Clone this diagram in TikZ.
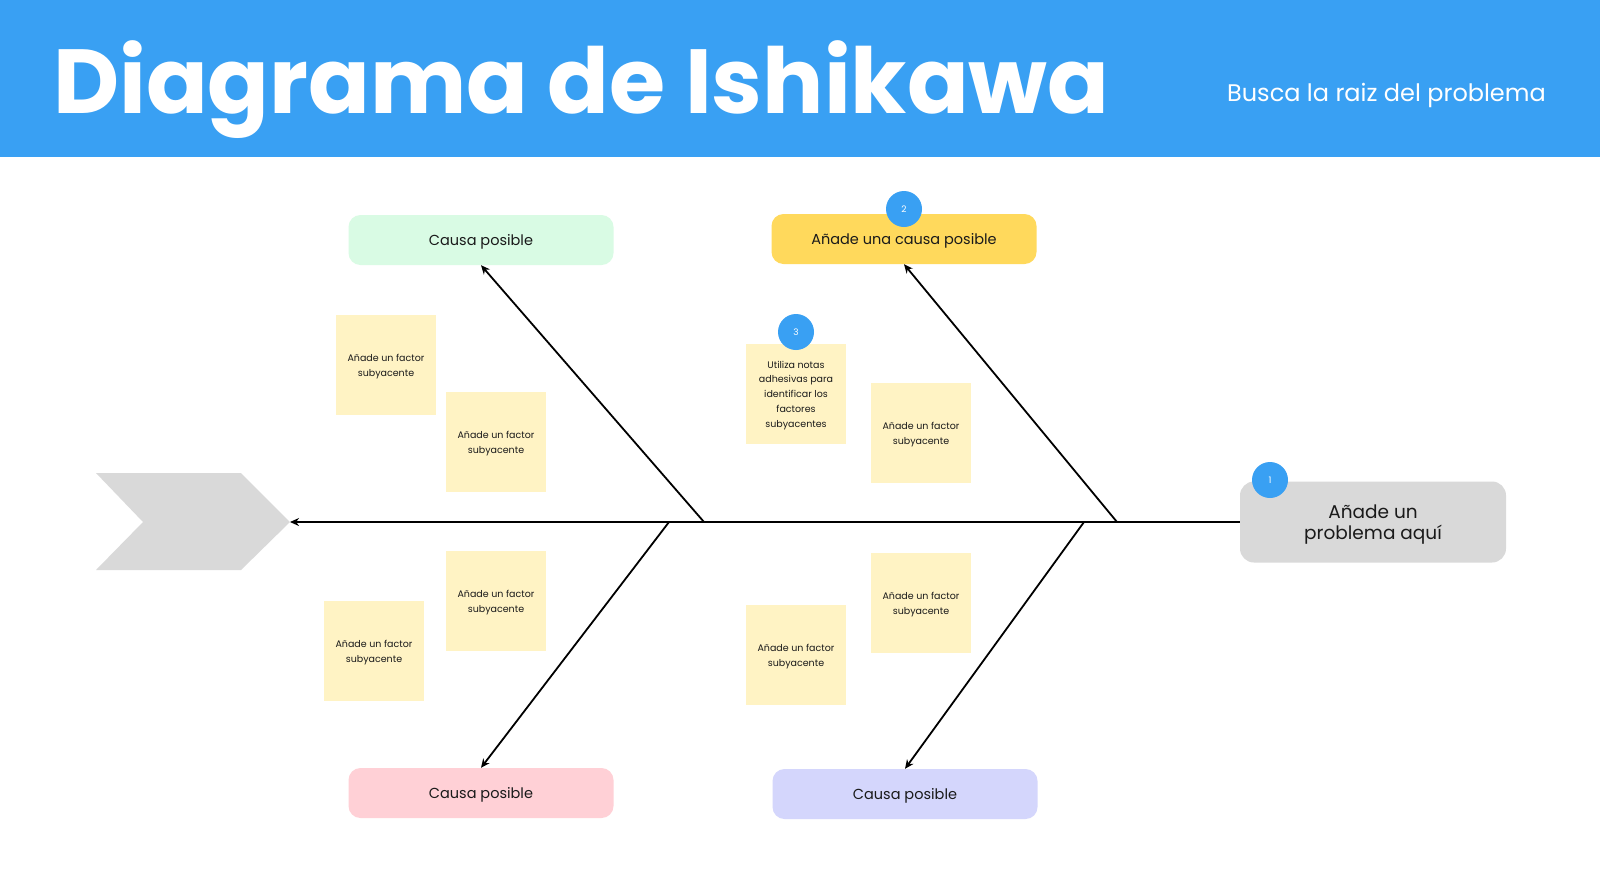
\documentclass[tikz,border=0pt]{standalone}
\usepackage{fontspec}
\setmainfont{Poppins}
\usetikzlibrary{arrows.meta}
\definecolor{headblue}{HTML}{39A0F3}
\definecolor{greenc}{HTML}{D9FBE4}
\definecolor{yellowc}{HTML}{FFD95C}
\definecolor{pinkc}{HTML}{FFD0D6}
\definecolor{lilac}{HTML}{D4D6FC}
\definecolor{greyc}{HTML}{D9D9D9}
\definecolor{notec}{HTML}{FFF3C4}
\definecolor{ink}{HTML}{1A1A1A}
\begin{document}
\begin{tikzpicture}[x=1pt,y=-1pt,
	cause/.style={rounded corners=12pt,minimum width=265pt,minimum height=50pt,
		inner sep=0pt,text depth=0pt,text=ink,font=\fontsize{14.5}{17}\selectfont},
	note/.style={fill=notec,minimum width=100pt,minimum height=100pt,inner sep=0pt,
		text depth=0pt,align=center,text=ink,font=\fontsize{9.5}{14.8}\selectfont},
	badge/.style={circle,fill=headblue,minimum size=36pt,inner sep=0pt,
		text=white,font=\fontsize{9}{11}\selectfont},
	bone/.style={line width=1.8pt,-{Stealth[length=9pt,width=8pt]}}]
\useasboundingbox (0,0) rectangle (1600,884);
\fill[white] (0,0) rectangle (1600,884);
% header
\fill[headblue] (0,0) rectangle (1600,157);
\node[anchor=base west,inner sep=0pt,text=white,font=\fontsize{91}{96}\selectfont\bfseries] (title) at (53,113) {Diagrama de Ishikawa};
\node[anchor=base east,inner sep=0pt,text=white,font=\fontsize{24}{28}\selectfont] (sub) at (1546,101) {Busca la raiz del problema};
% head of the fish
\fill[greyc] (96,473) -- (241,473) -- (290,522) -- (241,570) -- (96,570) -- (143,522) -- cycle;
\coordinate (tip) at (290,522);
\node[fill=greyc,rounded corners=14pt,minimum width=266pt,minimum height=81pt,inner sep=0pt,
	text depth=0pt,align=center,text=ink,font=\fontsize{18.5}{20.5}\selectfont] (prob) at (1373,522) {Añade un\\problema aquí};
% causes
\node[cause,fill=greenc] (c1) at (481,240) {Causa posible};
\node[cause,fill=yellowc] (c2) at (904,239) {Añade una causa posible};
\node[cause,fill=pinkc] (c3) at (481,793) {Causa posible};
\node[cause,fill=lilac] (c4) at (905,794) {Causa posible};
% spine and bones
\coordinate (j1) at (704,522);
\coordinate (j2) at (1117,522);
\coordinate (j3) at (669,522);
\coordinate (j4) at (1084,522);
\draw[bone] (prob.west |- tip) -- (tip);
\draw[bone] (j1) -- (c1.south);
\draw[bone] (j2) -- (c2.south);
\draw[bone] (j3) -- (c3.north);
\draw[bone] (j4) -- (c4.north);
% sticky notes
\node[note] (n1) at (386,365) {Añade un factor\\subyacente};
\node[note] (n2) at (496,442) {Añade un factor\\subyacente};
\node[note] (n3) at (796,394) {Utiliza notas\\adhesivas para\\identificar los\\factores\\subyacentes};
\node[note] (n4) at (921,433) {Añade un factor\\subyacente};
\node[note] (n5) at (496,601) {Añade un factor\\subyacente};
\node[note] (n6) at (374,651) {Añade un factor\\subyacente};
\node[note] (n7) at (921,603) {Añade un factor\\subyacente};
\node[note] (n8) at (796,655) {Añade un factor\\subyacente};
% numbered hints
\node[badge] (b1) at (1270,480) {1};
\node[badge] (b2) at (904,209) {2};
\node[badge] (b3) at (796,332) {3};
\end{tikzpicture}
\end{document}
